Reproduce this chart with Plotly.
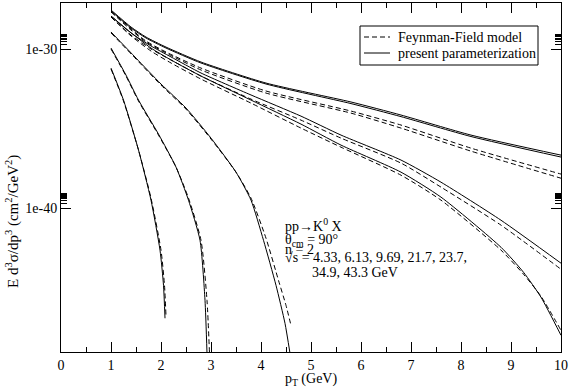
import plotly.graph_objects as go

# p_T values (GeV) and log10 of E d3sigma/dp3 (cm^2/GeV^2)
# one list pair per sqrt(s), solid = present parameterization, dashed = Feynman-Field model

pt_433 = [1.0, 1.25, 1.55, 1.8, 1.98, 2.05, 2.08]
sol_433 = [-31.18, -33.19, -36.33, -39.48, -42.62, -44.83, -46.90]
pt_433_ff = [1.0, 1.25, 1.55, 1.8, 2.0, 2.07, 2.1]
ff_433 = [-31.24, -33.25, -36.33, -39.35, -42.62, -44.83, -46.77]

pt_613 = [1.0, 1.3, 1.55, 1.95, 2.3, 2.55, 2.78, 2.88, 2.92]
sol_613 = [-29.92, -31.62, -33.19, -35.33, -37.40, -39.48, -42.0, -45.77, -49.1]
pt_613_ff = [1.0, 1.3, 1.55, 1.95, 2.3, 2.55, 2.8, 2.92, 2.97]
ff_613 = [-29.98, -31.68, -33.25, -35.39, -37.40, -39.35, -42.0, -45.77, -49.1]

pt_969 = [1.0, 1.5, 2.0, 2.5, 3.0, 3.5, 3.8, 4.05, 4.3, 4.48, 4.58]
sol_969 = [-28.91, -30.55, -32.18, -33.69, -35.58, -37.72, -39.48, -42.0, -44.83, -47.22, -49.1]
pt_969_ff = [1.0, 1.5, 2.0, 2.5, 3.0, 3.5, 3.8, 4.1, 4.35, 4.5, 4.6]
ff_969 = [-28.97, -30.61, -32.25, -33.76, -35.64, -37.72, -39.35, -41.87, -44.52, -46.09, -47.35]

pt_217 = [1.0, 1.4, 1.8, 2.2, 2.8, 3.8, 4.8, 5.6, 6.8, 7.6, 8.8, 9.25, 9.6, 10.0]
sol_217 = [-27.91, -28.96, -29.92, -30.67, -31.68, -33.19, -34.70, -36.02, -37.72, -39.29,
           -42.44, -44.01, -45.58, -47.97]
ff_217 = [-27.97, -29.16, -30.11, -30.86, -31.87, -33.38, -34.95, -36.15, -37.91, -39.48,
          -42.62, -44.13, -45.52, -47.66]

pt_237 = [1.0, 1.4, 1.8, 2.2, 2.8, 3.8, 4.8, 5.6, 6.8, 7.6, 8.8, 10.0]
sol_237 = [-27.91, -28.97, -29.79, -30.48, -31.49, -32.87, -34.20, -35.39, -36.96, -38.35, -40.74, -43.44]
ff_237 = [-27.97, -29.10, -29.98, -30.67, -31.68, -33.13, -34.45, -35.58, -37.15, -38.66, -41.05, -43.82]

pt_high = [1.0, 1.4, 1.7, 2.1, 2.8, 4.1, 5.8, 6.8, 8.2, 10.0]
sol_349 = [-27.59, -28.66, -29.29, -29.92, -30.86, -32.18, -33.41, -34.23, -35.48, -36.77]
ff_349 = [-27.65, -28.79, -29.54, -30.23, -31.30, -32.75, -34.01, -34.95, -36.40, -38.10]
sol_433g = [-27.53, -28.60, -29.23, -29.86, -30.80, -32.12, -33.31, -34.13, -35.39, -36.65]
ff_433g = [-27.59, -28.72, -29.48, -30.17, -31.18, -32.62, -33.88, -34.76, -36.21, -37.84]

ytick_vals = [1e-40, 1e-30]
ytick_text = ['1e-40', '1e-30']
legend_names = ['Feynman-Field model', 'present parameterization']

FONT = 'Liberation Serif'
DASH = '5px,3px'

curves = [
    (pt_433, sol_433, pt_433_ff, ff_433),
    (pt_613, sol_613, pt_613_ff, ff_613),
    (pt_969, sol_969, pt_969_ff, ff_969),
    (pt_217, sol_217, pt_217, ff_217),
    (pt_237, sol_237, pt_237, ff_237),
    (pt_high, sol_349, pt_high, ff_349),
    (pt_high, sol_433g, pt_high, ff_433g),
]

# plot box in pixels (569 x 388 page)
L, R, T, B = 61, 561, 3, 352


def to_sigma(logs):
    return [10 ** v for v in logs]


# pixel -> paper coordinates
def px(xp):
    return (xp - L) / (R - L)


def py(yp):
    return (B - yp) / (B - T)


fig = go.Figure()
for xs, ys, xd, yd in curves:
    fig.add_trace(go.Scatter(x=xd, y=to_sigma(yd), mode='lines', name=legend_names[0],
                             line=dict(color='black', width=1, dash=DASH, shape='spline', smoothing=0.6),
                             showlegend=False))
    fig.add_trace(go.Scatter(x=xs, y=to_sigma(ys), mode='lines', name=legend_names[1],
                             line=dict(color='black', width=1, shape='spline', smoothing=0.6),
                             showlegend=False))

# minor log ticks (2..9 x major)
minor_vals = [k * 1e-40 for k in range(2, 10)] + [k * 1e-30 for k in range(2, 10)]

fig.update_layout(
    width=569, height=388,
    margin=dict(l=L, r=569 - R, t=T, b=388 - B, autoexpand=False),
    paper_bgcolor='white', plot_bgcolor='white',
    font=dict(family=FONT, size=14, color='black'),
    showlegend=False,
)
fig.update_xaxes(range=[0, 10], dtick=1, tick0=0, ticks='inside', ticklen=10, tickcolor='black',
                 showline=True, linecolor='black', linewidth=1, mirror='ticks',
                 showgrid=False, zeroline=False,
                 minor=dict(dtick=0.5, tick0=0, ticks='inside', ticklen=5, tickcolor='black', showgrid=False),
                 title=dict(text='p<sub>T</sub> (GeV)', standoff=2, font=dict(size=14)))
fig.update_yaxes(type='log', range=[-49.02, -27.09], tickvals=ytick_vals, ticktext=ytick_text,
                 ticks='inside', ticklen=10, tickcolor='black',
                 showline=True, linecolor='black', linewidth=1, mirror='ticks',
                 showgrid=False, zeroline=False,
                 minor=dict(tickvals=minor_vals, ticks='inside', ticklen=6, tickcolor='black', showgrid=False))

# y axis title, placed like the original (a bit below the middle)
fig.add_annotation(x=px(12), y=py(222), xref='paper', yref='paper', textangle=-90,
                   text='E d<sup>3</sup>σ/dp<sup>3</sup> (cm<sup>2</sup>/GeV<sup>2</sup>)',
                   showarrow=False, xanchor='center', yanchor='middle',
                   font=dict(family=FONT, size=15, color='black'))

# legend box drawn by hand
fig.add_shape(type='rect', xref='paper', yref='paper', x0=px(360), x1=px(538), y0=py(65), y1=py(26),
              line=dict(color='black', width=1), fillcolor='white', layer='above')
for i, (name, dash) in enumerate(zip(legend_names, [DASH, 'solid'])):
    yy = 37 + 16 * i
    fig.add_shape(type='line', xref='paper', yref='paper', x0=px(364), x1=px(390), y0=py(yy), y1=py(yy),
                  line=dict(color='black', width=1, dash=dash), layer='above')
    fig.add_annotation(x=px(396), y=py(yy), xref='paper', yref='paper', text=name, showarrow=False,
                       xanchor='left', yanchor='middle', font=dict(family=FONT, size=14, color='black'))

# text block in the plot
info_lines = ['pp→K<sup>0</sup> X', 'θ<sub>cm</sub> = 90°', 'n = 2',
              '√s = 4.33, 6.13, 9.69, 21.7, 23.7,', '34.9, 43.3 GeV']
info_x = [4.44, 4.44, 4.44, 4.44, 4.98]
info_ypx = [225, 240, 250, 257, 272]
for txt, xx, ypx in zip(info_lines, info_x, info_ypx):
    fig.add_annotation(x=xx, xref='x', y=py(ypx), yref='paper', text=txt,
                       showarrow=False, xanchor='left', yanchor='middle',
                       font=dict(family=FONT, size=14, color='black'))

fig.write_html("out.html", config={'displayModeBar': False},
               post_script="document.body.style.margin='0px';")
